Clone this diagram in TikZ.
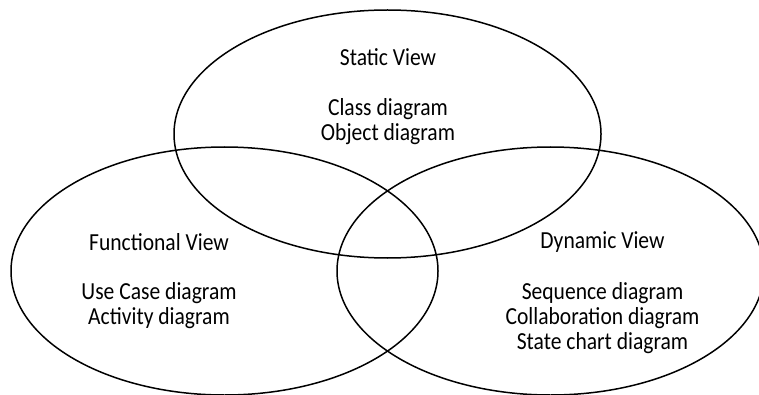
\documentclass[tikz,border=0pt]{standalone}
\usepackage{fontspec}
\setmainfont{Carlito}[FakeStretch=0.88]
\begin{document}
\begin{tikzpicture}[x=1pt,y=1pt,
  view/.style={line width=1.5pt, draw=black},
  title/.style={font=\fontsize{24.5}{25}\selectfont, inner sep=0pt},
  items/.style={font=\fontsize{24.5}{25}\selectfont, inner sep=0pt, align=center}]
% Marco
\useasboundingbox (0,0) rectangle (759,394);
\clip (0,0) rectangle (759,394);

% Vista estatica (arriba)
\draw [view] (387.5,260) ellipse [x radius=213.5pt, y radius=124pt];
\node [title] (static) at (388,337) {Static View};
\node [items] (staticlist) at (388,272) {Class diagram\\Object diagram};

% Vista funcional (izquierda)
\draw [view] (224.5,123) ellipse [x radius=213.5pt, y radius=124pt];
\node [title] (functional) at (159,152) {Functional View};
\node [items] (functionallist) at (159,88) {Use Case diagram\\Activity diagram};

% Vista dinamica (derecha)
\draw [view] (550.5,123) ellipse [x radius=213.5pt, y radius=124pt];
\node [title] (dynamic) at (602.5,152) {Dynamic View};
\node [items] (dynamiclist) at (602.5,76) {Sequence diagram\\Collaboration diagram\\State chart diagram};
\end{tikzpicture}
\end{document}
